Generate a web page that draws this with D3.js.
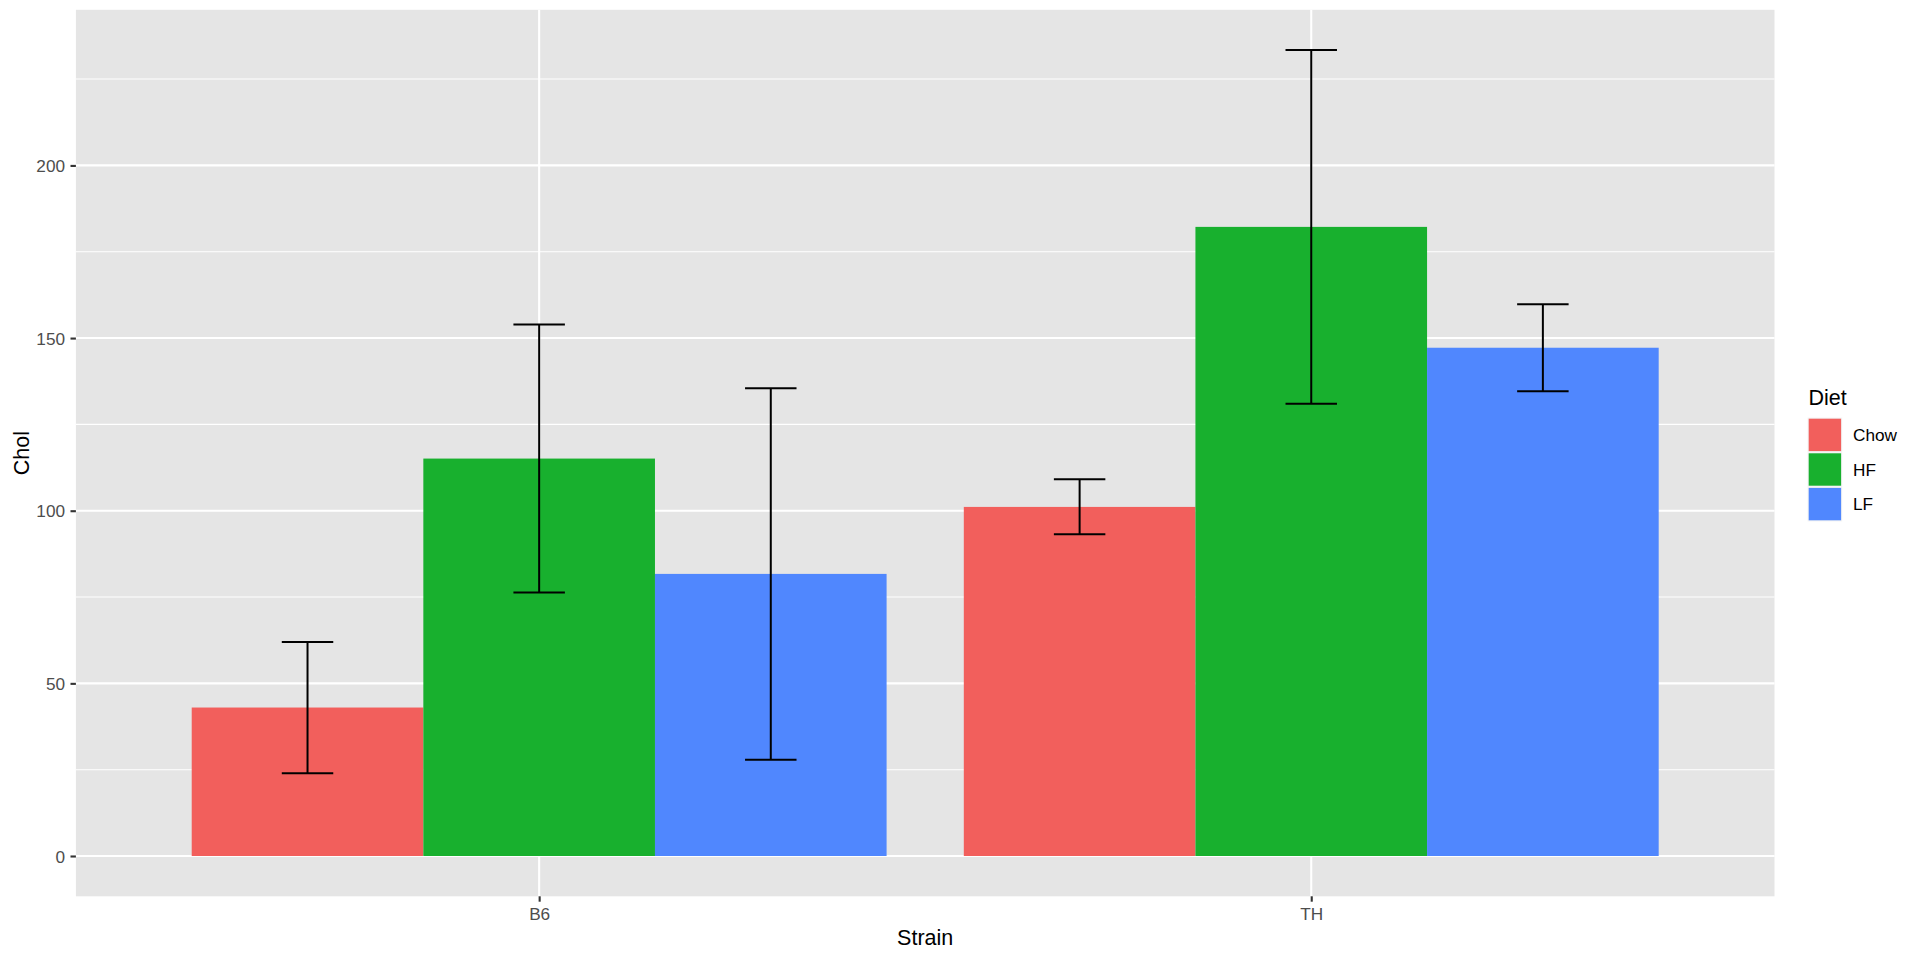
<!DOCTYPE html>
<html>
<head>
<meta charset="utf-8">
<script src="https://cdn.jsdelivr.net/npm/d3@7"></script>
<style>
  html, body { margin: 0; padding: 0; background: #ffffff; }
  svg { display: block; font-family: "Liberation Sans", Arial, Helvetica, sans-serif; }
</style>
</head>
<body>
<svg id="chart" width="1920" height="960"></svg>
<script>
// ---- data ----
const strains = ["B6", "TH"];
const diets = ["Chow", "HF", "LF"];
const dietColors = ["#F25F5C", "#18B02E", "#5087FE"];
const chowMean = [43.0, 101.1];
const chowLow  = [24.0, 93.2];
const chowHigh = [62.0, 109.1];
const hfMean   = [115.1, 182.2];
const hfLow    = [76.3, 131.0];
const hfHigh   = [153.9, 233.4];
const lfMean   = [81.7, 147.2];
const lfLow    = [27.9, 134.6];
const lfHigh   = [135.5, 159.8];
const yTicks = [0, 50, 100, 150, 200];
const yMinor = [25, 75, 125, 175, 225];
const xTitle = "Strain";
const yTitle = "Chol";
const legendTitle = "Diet";

const means = [chowMean, hfMean, lfMean];
const lows = [chowLow, hfLow, lfLow];
const highs = [chowHigh, hfHigh, lfHigh];

const rows = [];
diets.forEach((d, j) => {
  strains.forEach((s, i) => {
    rows.push({ strain: s, si: i, diet: d, dj: j, mean: means[j][i], lo: lows[j][i], hi: highs[j][i] });
  });
});

// ---- layout ----
const panel = { left: 75.9, right: 1774.5, top: 9.8, bottom: 896.3 };
const dodge = 0.9, barW = dodge / diets.length;
const x = d3.scaleLinear().domain([0.4, 2.6]).range([panel.left, panel.right]);
const maxV = d3.max(rows, r => r.hi);
const minV = 0;
const pad = (maxV - minV) * 0.05;
const y = d3.scaleLinear().domain([minV - pad, maxV + pad]).range([panel.bottom, panel.top]);
const xPos = r => (r.si + 1) + (r.dj - (diets.length - 1) / 2) * barW;

const svg = d3.select("#chart");

// panel background
svg.append("rect")
  .attr("x", panel.left).attr("y", panel.top)
  .attr("width", panel.right - panel.left).attr("height", panel.bottom - panel.top)
  .attr("fill", "#E5E5E5");

const grid = svg.append("g");
// minor y gridlines
grid.selectAll("line.minor").data(yMinor.filter(v => y(v) >= panel.top && y(v) <= panel.bottom)).join("line")
  .attr("x1", panel.left).attr("x2", panel.right)
  .attr("y1", d => y(d)).attr("y2", d => y(d))
  .attr("stroke", "#ffffff").attr("stroke-width", 1.05);
// major y gridlines
grid.selectAll("line.majory").data(yTicks).join("line")
  .attr("x1", panel.left).attr("x2", panel.right)
  .attr("y1", d => y(d)).attr("y2", d => y(d))
  .attr("stroke", "#ffffff").attr("stroke-width", 2.1);
// major x gridlines
grid.selectAll("line.majorx").data(strains).join("line")
  .attr("x1", (d, i) => x(i + 1)).attr("x2", (d, i) => x(i + 1))
  .attr("y1", panel.top).attr("y2", panel.bottom)
  .attr("stroke", "#ffffff").attr("stroke-width", 2.1);

// bars
svg.append("g").selectAll("rect").data(rows).join("rect")
  .attr("x", r => x(xPos(r) - barW / 2))
  .attr("width", r => x(xPos(r) + barW / 2) - x(xPos(r) - barW / 2))
  .attr("y", r => y(r.mean))
  .attr("height", r => y(0) - y(r.mean))
  .attr("fill", r => dietColors[r.dj]);

// error bars
const capHalf = 0.2 / diets.length / 2;
const eb = svg.append("g").attr("stroke", "#000000").attr("stroke-width", 2).attr("fill", "none");
rows.forEach(r => {
  const cx = xPos(r);
  eb.append("line").attr("x1", x(cx)).attr("x2", x(cx)).attr("y1", y(r.lo)).attr("y2", y(r.hi));
  eb.append("line").attr("x1", x(cx - capHalf)).attr("x2", x(cx + capHalf)).attr("y1", y(r.lo)).attr("y2", y(r.lo));
  eb.append("line").attr("x1", x(cx - capHalf)).attr("x2", x(cx + capHalf)).attr("y1", y(r.hi)).attr("y2", y(r.hi));
});

// y axis
const yAxis = svg.append("g").attr("transform", `translate(${panel.left},0)`)
  .call(d3.axisLeft(y).tickValues(yTicks).tickSize(5.4).tickPadding(5.5).tickFormat(d3.format("d")));
yAxis.select(".domain").remove();
yAxis.selectAll(".tick line").attr("stroke", "#333333").attr("stroke-width", 2.1);
yAxis.selectAll(".tick text").attr("fill", "#4D4D4D").attr("font-size", "17.2px")
  .attr("font-family", "Liberation Sans, Arial, sans-serif").attr("dy", "0.35em");

// x axis
const xBand = d3.scalePoint().domain(strains).range([x(1), x(2)]);
const xAxis = svg.append("g").attr("transform", `translate(0,${panel.bottom})`)
  .call(d3.axisBottom(xBand).tickSize(5.4).tickPadding(6));
xAxis.select(".domain").remove();
xAxis.selectAll(".tick line").attr("stroke", "#333333").attr("stroke-width", 2.1);
xAxis.selectAll(".tick text").attr("fill", "#4D4D4D").attr("font-size", "17.2px")
  .attr("font-family", "Liberation Sans, Arial, sans-serif").attr("dy", "0.71em");

// axis titles
svg.append("text").attr("x", (panel.left + panel.right) / 2).attr("y", 945)
  .attr("text-anchor", "middle").attr("font-size", "21.5px").attr("fill", "#000000").text(xTitle);
svg.append("text")
  .attr("transform", `translate(28.5,${(panel.top + panel.bottom) / 2}) rotate(-90)`)
  .attr("text-anchor", "middle").attr("font-size", "21.5px").attr("fill", "#000000").text(yTitle);

// legend
const lg = svg.append("g");
lg.append("text").attr("x", 1808.5).attr("y", 405).attr("font-size", "21.5px").attr("fill", "#000000").text(legendTitle);
const keySize = 34.6, keyTop = 417.6, keyX = 1807.6;
diets.forEach((d, j) => {
  const ky = keyTop + j * keySize;
  lg.append("rect").attr("x", keyX).attr("y", ky).attr("width", keySize).attr("height", keySize).attr("fill", "#F2F2F2");
  lg.append("rect").attr("x", keyX + 1.1).attr("y", ky + 1.1).attr("width", keySize - 2.2).attr("height", keySize - 2.2).attr("fill", dietColors[j]);
  lg.append("text").attr("x", 1853).attr("y", ky + keySize / 2).attr("dy", "0.35em")
    .attr("font-size", "17.2px").attr("fill", "#000000").text(d);
});
</script>
</body>
</html>
